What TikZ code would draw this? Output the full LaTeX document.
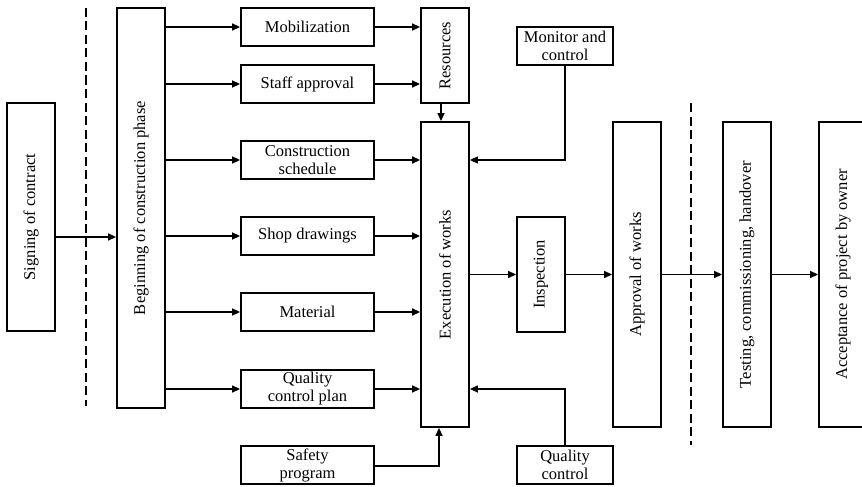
\documentclass[tikz,border=0pt]{standalone}
\usepackage{fontspec}
\usepackage{graphicx}
\setmainfont{Liberation Serif}
\usetikzlibrary{arrows.meta}
\begin{document}
\begin{tikzpicture}[x=1pt,y=-1pt,
  box/.style={draw, line width=1.8pt, inner sep=0pt, align=center,
              font=\fontsize{16.5}{18}\selectfont},
  vbox/.style={box, minimum width=48pt},
  hbox/.style={box, minimum width=133pt, minimum height=38pt},
  arr/.style={line width=1.3pt, -{Triangle[length=8pt,width=7pt]}},
  plain/.style={line width=1.3pt},
  phase/.style={line width=2.7pt, dash pattern=on 9pt off 4.5pt}]
\useasboundingbox (0,0) rectangle (862,487);

% phase boundaries
\coordinate (d1a) at (86,8);   \coordinate (d1b) at (86,406);
\coordinate (d2a) at (691,103); \coordinate (d2b) at (691,445);
\draw[phase] (d1a) -- (d1b);
\draw[phase] (d2a) -- (d2b);

% tall vertical boxes
\node[vbox, minimum height=228pt] (sign)  at (31,217)    {\rotatebox{90}{Signing of contract}};
\node[vbox, minimum height=400pt] (begin) at (141,208)   {\rotatebox{90}{Beginning of construction phase}};
\node[vbox, minimum height=95pt]  (res)   at (445,55.5)  {\rotatebox{90}{Resources}};
\node[vbox, minimum height=305pt] (exe)   at (445,274.5) {\rotatebox{90}{Execution of works}};
\node[vbox, minimum height=115pt] (insp)  at (541,274.5) {\rotatebox{90}{Inspection}};
\node[vbox, minimum height=305pt] (appr)  at (637,274.5) {\rotatebox{90}{Approval of works}};
\node[vbox, minimum height=305pt] (test)  at (747,274.5) {\rotatebox{90}{Testing, commissioning, handover}};
\node[vbox, minimum height=305pt] (acc)   at (843,274.5) {\rotatebox{90}{Acceptance of project by owner}};

% inputs column
\node[hbox, minimum height=37.5pt] (mob) at (307.5,27) {Mobilization};
\node[hbox] (staff)  at (307.5,84)  {Staff approval};
\node[hbox] (csched) at (307.5,160) {Construction\\schedule};
\node[hbox] (shop)   at (307.5,236) {Shop drawings};
\node[hbox] (mat)    at (307.5,312) {Material};
\node[hbox] (qcp)    at (307.5,389) {Quality\\control plan};
\node[hbox] (safety) at (307.5,465) {Safety\\program};

% control boxes
\node[box, minimum width=96pt, minimum height=38pt] (mon) at (565,46)  {Monitor and\\control};
\node[box, minimum width=96pt, minimum height=38pt] (qc)  at (565,465) {Quality\\control};

% contract to start of construction
\draw[arr] ([yshift=-20pt]sign.east) -- ([yshift=-20pt]sign.east -| begin.west);

% start of construction to each input
\foreach \n in {mob,staff,csched,shop,mat,qcp}
  \draw[arr] (begin.east |- \n.west) -- (\n.west);

% inputs to resources
\draw[arr] (mob.east) -- (mob.east -| res.west);
\draw[arr] (staff.east) -- (staff.east -| res.west);

% resources to execution
\draw[arr] ([xshift=-4pt]res.south) -- ([xshift=-4pt]exe.north);

% inputs to execution
\foreach \n in {csched,shop,mat,qcp}
  \draw[arr] (\n.east) -- (\n.east -| exe.west);
\draw[arr] ([yshift=-1pt]safety.east) -| ([xshift=-6pt]exe.south);

% control feedback
\draw[arr] (mon.south) |- (exe.east |- csched.east);
\draw[arr] (qc.north) |- (exe.east |- qcp.east);

% main flow
\draw[arr] (exe.east) -- (insp.west);
\draw[arr] (insp.east) -- (appr.west);
\draw[arr] (appr.east) -- (test.west);
\draw[arr] (test.east) -- (acc.west);
\end{tikzpicture}
\end{document}
